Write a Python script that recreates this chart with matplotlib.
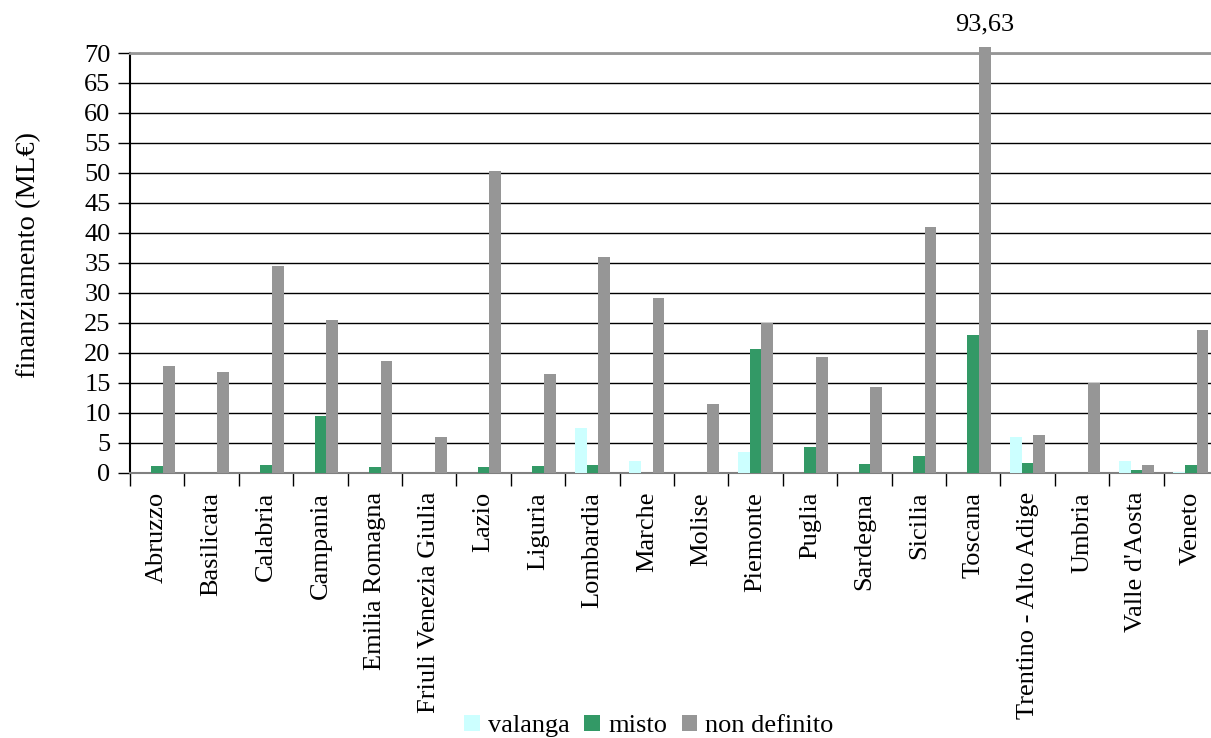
import numpy as np
import matplotlib.pyplot as plt
from matplotlib.patches import Patch

regioni = ['Abruzzo', 'Basilicata', 'Calabria', 'Campania', 'Emilia Romagna',
           'Friuli Venezia Giulia', 'Lazio', 'Liguria', 'Lombardia', 'Marche',
           'Molise', 'Piemonte', 'Puglia', 'Sardegna', 'Sicilia', 'Toscana',
           'Trentino - Alto Adige', 'Umbria', "Valle d'Aosta", 'Veneto']
valanga = [0, 0, 0, 0, 0, 0, 0, 0, 7.5, 1.85, 0, 3.4, 0, 0, 0, 0, 5.9, 0, 2.0, 0.15]
misto = [1.1, 0, 1.3, 9.5, 1.0, 0, 1.0, 1.1, 1.3, 0, 0, 20.6, 4.2, 1.5, 2.8, 23.0, 1.6, 0, 0.45, 1.2]
non_definito = [17.8, 16.8, 34.5, 25.5, 18.6, 6.0, 50.3, 16.5, 36.0, 29.2,
                11.5, 24.9, 19.2, 14.3, 41.0, 93.63, 6.2, 15.0, 1.3, 23.8]

serie = ['valanga', 'misto', 'non definito']
colori = ['#CCFFFF', '#339966', '#969696']
ymax = 70

plt.rcParams['font.family'] = ['Liberation Serif', 'DejaVu Serif']
fs = 19

fig = plt.figure(figsize=(12.11, 7.38), dpi=100)
ax = fig.add_axes([130 / 1211, 1 - 472.5 / 738, 1088 / 1211, (472.5 - 53) / 738])

x = np.arange(len(regioni))
w = 0.215
for i, (vals, c) in enumerate(zip([valanga, misto, non_definito], colori)):
    h = [min(v, ymax + 1) for v in vals]
    ax.bar(x + (i - 1) * w, h, w, color=c, zorder=3, clip_on=False)

# the Toscana bar goes off the scale, so its value is written on top
k = int(np.argmax(non_definito))
ax.text(x[k] + w, ymax + 2.9, f'{non_definito[k]:.2f}'.replace('.', ','),
        ha='center', va='bottom', fontsize=fs)

ax.set_xlim(-0.5, len(regioni) - 0.5)
ax.set_ylim(0, ymax)
ax.set_yticks(range(0, ymax + 1, 5))
ax.yaxis.grid(True, color='black', lw=1, zorder=0)
ax.set_axisbelow(True)

ax.set_xticks(x)
ax.set_xticklabels(regioni, rotation=90, fontsize=fs)
ax.set_xticks(np.arange(-0.5, len(regioni), 1), minor=True)
ax.tick_params(axis='x', which='major', length=0, pad=14)
ax.tick_params(axis='x', which='minor', length=9, width=1, color='black')
ax.tick_params(axis='y', length=9, width=1, labelsize=fs, pad=5)

ax.spines['right'].set_visible(False)
ax.spines['top'].set_color('#969696')
ax.spines['top'].set_linewidth(2)
ax.spines['bottom'].set_color('#808080')
ax.spines['bottom'].set_linewidth(1.5)
ax.spines['left'].set_linewidth(1.5)

fig.text(29 / 1211, 1 - 255 / 738, 'finanziamento (ML€)', rotation=90,
         ha='center', va='center', fontsize=20.5)

handles = [Patch(facecolor=c, edgecolor='none') for c in colori]
fig.legend(handles, serie, loc='center', bbox_to_anchor=(649 / 1211, 1 - 726 / 738),
           ncol=3, frameon=False, prop={'family': 'Liberation Serif', 'size': fs},
           handlelength=0.6, handleheight=0.6,
           handletextpad=0.3, columnspacing=0.55, borderpad=0)

fig.savefig('out.png', dpi=100)
